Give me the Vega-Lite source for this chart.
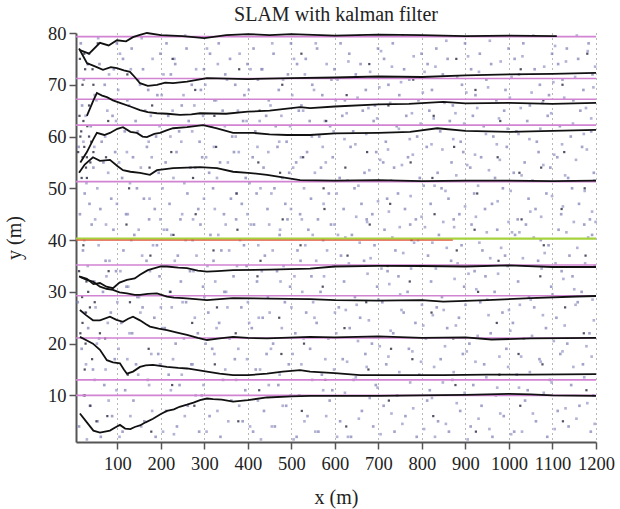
{
  "$schema": "https://vega.github.io/schema/vega-lite/v6.json",
  "width": 520,
  "height": 409,
  "autosize": "none",
  "padding": {"left": 76, "top": 33, "right": 24, "bottom": 67},
  "background": "white",
  "title": {"text": "SLAM with kalman filter", "font": "Liberation Serif", "fontSize": 20, "fontWeight": "normal", "color": "#222", "offset": 10, "dy": 11},
  "config": {
    "view": {"stroke": null},
    "axis": {"labelFont": "Liberation Serif", "titleFont": "Liberation Serif", "labelFontSize": 18.5, "titleFontSize": 20, "titleFontWeight": "normal", "labelColor": "#222", "titleColor": "#222", "domainColor": "#555", "domainWidth": 2, "tickColor": "#555", "tickWidth": 1.5, "tickSize": 7, "labelOverlap": false, "labelFlush": false, "format": "d"}
  },
  "datasets": {
    "lt": [
      {"x":12,"y":4},{"x":18,"y":19},{"x":9,"y":28},{"x":21,"y":38},{"x":14,"y":45},{"x":25,"y":49},{"x":11,"y":58},{"x":19,"y":66},{"x":23,"y":71},{"x":16,"y":78},
      {"x":37,"y":8},{"x":44,"y":15},{"x":33,"y":23},{"x":47,"y":32},{"x":41,"y":43},{"x":36,"y":47},{"x":45,"y":54},{"x":39,"y":62},{"x":48,"y":68},{"x":35,"y":76},
      {"x":62,"y":2},{"x":70,"y":12},{"x":58,"y":21},{"x":67,"y":30},{"x":73,"y":36},{"x":61,"y":46},{"x":68,"y":55},{"x":64,"y":59},{"x":71,"y":70},{"x":59,"y":74},
      {"x":88,"y":6},{"x":94,"y":17},{"x":85,"y":26},{"x":97,"y":34},{"x":91,"y":42},{"x":86,"y":48},{"x":95,"y":57},{"x":89,"y":64},{"x":92,"y":73},{"x":99,"y":78},
      {"x":112,"y":3},{"x":118,"y":11},{"x":109,"y":24},{"x":121,"y":31},{"x":114,"y":38},{"x":120,"y":45},{"x":111,"y":52},{"x":117,"y":61},{"x":123,"y":67},{"x":113,"y":75},
      {"x":137,"y":9},{"x":143,"y":16},{"x":134,"y":22},{"x":146,"y":29},{"x":139,"y":41},{"x":145,"y":50},{"x":136,"y":56},{"x":142,"y":63},{"x":148,"y":71},{"x":133,"y":77},
      {"x":162,"y":5},{"x":170,"y":13},{"x":158,"y":27},{"x":167,"y":36},{"x":173,"y":44},{"x":161,"y":48},{"x":168,"y":58},{"x":164,"y":65},{"x":171,"y":69},{"x":159,"y":73},
      {"x":188,"y":2},{"x":194,"y":18},{"x":185,"y":25},{"x":197,"y":33},{"x":191,"y":39},{"x":186,"y":46},{"x":195,"y":53},{"x":189,"y":60},{"x":192,"y":68},{"x":199,"y":76},
      {"x":212,"y":7},{"x":218,"y":14},{"x":209,"y":23},{"x":221,"y":30},{"x":214,"y":42},{"x":220,"y":47},{"x":211,"y":55},{"x":217,"y":64},{"x":223,"y":72},{"x":213,"y":78},
      {"x":237,"y":4},{"x":243,"y":12},{"x":234,"y":20},{"x":246,"y":32},{"x":239,"y":37},{"x":245,"y":44},{"x":236,"y":57},{"x":242,"y":61},{"x":248,"y":66},{"x":233,"y":74},
      {"x":262,"y":8},{"x":270,"y":16},{"x":258,"y":28},{"x":267,"y":34},{"x":273,"y":40},{"x":261,"y":49},{"x":268,"y":54},{"x":264,"y":63},{"x":271,"y":70},{"x":259,"y":77},
      {"x":288,"y":3},{"x":294,"y":10},{"x":285,"y":22},{"x":297,"y":31},{"x":291,"y":43},{"x":286,"y":46},{"x":295,"y":56},{"x":289,"y":59},{"x":292,"y":69},{"x":299,"y":73},
      {"x":312,"y":6},{"x":318,"y":19},{"x":309,"y":26},{"x":321,"y":36},{"x":314,"y":41},{"x":320,"y":50},{"x":311,"y":53},{"x":317,"y":62},{"x":323,"y":67},{"x":313,"y":76},
      {"x":337,"y":2},{"x":343,"y":13},{"x":334,"y":24},{"x":346,"y":30},{"x":339,"y":38},{"x":345,"y":45},{"x":336,"y":55},{"x":342,"y":65},{"x":348,"y":72},{"x":333,"y":78},
      {"x":362,"y":9},{"x":370,"y":17},{"x":358,"y":21},{"x":367,"y":33},{"x":373,"y":44},{"x":361,"y":48},{"x":368,"y":57},{"x":364,"y":60},{"x":371,"y":70},{"x":359,"y":75},
      {"x":388,"y":5},{"x":394,"y":11},{"x":385,"y":27},{"x":397,"y":35},{"x":391,"y":39},{"x":386,"y":47},{"x":395,"y":52},{"x":389,"y":63},{"x":392,"y":68},{"x":399,"y":74},
      {"x":412,"y":3},{"x":418,"y":15},{"x":409,"y":23},{"x":421,"y":32},{"x":414,"y":43},{"x":420,"y":49},{"x":411,"y":56},{"x":417,"y":61},{"x":423,"y":71},{"x":413,"y":77},
      {"x":437,"y":7},{"x":443,"y":18},{"x":434,"y":25},{"x":446,"y":29},{"x":439,"y":37},{"x":445,"y":46},{"x":436,"y":54},{"x":442,"y":64},{"x":448,"y":67},{"x":433,"y":73},
      {"x":462,"y":4},{"x":470,"y":12},{"x":458,"y":20},{"x":467,"y":34},{"x":473,"y":41},{"x":461,"y":50},{"x":468,"y":58},{"x":464,"y":62},{"x":471,"y":69},{"x":459,"y":76},
      {"x":488,"y":8},{"x":494,"y":16},{"x":485,"y":28},{"x":497,"y":31},{"x":491,"y":44},{"x":486,"y":47},{"x":495,"y":53},{"x":489,"y":59},{"x":492,"y":72},{"x":499,"y":78},
      {"x":512,"y":2},{"x":518,"y":10},{"x":509,"y":22},{"x":521,"y":36},{"x":514,"y":38},{"x":520,"y":45},{"x":511,"y":55},{"x":517,"y":65},{"x":523,"y":66},{"x":513,"y":74},
      {"x":537,"y":6},{"x":543,"y":19},{"x":534,"y":26},{"x":546,"y":33},{"x":539,"y":42},{"x":545,"y":48},{"x":536,"y":57},{"x":542,"y":63},{"x":548,"y":70},{"x":533,"y":75},
      {"x":562,"y":3},{"x":570,"y":14},{"x":558,"y":24},{"x":567,"y":30},{"x":573,"y":40},{"x":561,"y":44},{"x":568,"y":54},{"x":564,"y":60},{"x":571,"y":68},{"x":559,"y":77},
      {"x":588,"y":9},{"x":594,"y":11},{"x":585,"y":21},{"x":597,"y":35},{"x":591,"y":43},{"x":586,"y":49},{"x":595,"y":56},{"x":589,"y":62},{"x":592,"y":71},{"x":599,"y":73},
      {"x":612,"y":5},{"x":618,"y":17},{"x":609,"y":27},{"x":621,"y":32},{"x":614,"y":37},{"x":620,"y":46},{"x":611,"y":52},{"x":617,"y":64},{"x":623,"y":67},{"x":613,"y":78},
      {"x":637,"y":2},{"x":643,"y":13},{"x":634,"y":23},{"x":646,"y":29},{"x":639,"y":41},{"x":645,"y":50},{"x":636,"y":58},{"x":642,"y":61},{"x":648,"y":72},{"x":633,"y":76},
      {"x":662,"y":7},{"x":670,"y":18},{"x":658,"y":25},{"x":667,"y":36},{"x":673,"y":44},{"x":661,"y":47},{"x":668,"y":53},{"x":664,"y":65},{"x":671,"y":69},{"x":659,"y":74},
      {"x":688,"y":4},{"x":694,"y":12},{"x":685,"y":20},{"x":697,"y":31},{"x":691,"y":39},{"x":686,"y":45},{"x":695,"y":57},{"x":689,"y":63},{"x":692,"y":66},{"x":699,"y":77},
      {"x":712,"y":8},{"x":718,"y":16},{"x":709,"y":28},{"x":721,"y":34},{"x":714,"y":42},{"x":720,"y":48},{"x":711,"y":55},{"x":717,"y":59},{"x":723,"y":70},{"x":713,"y":75},
      {"x":737,"y":3},{"x":743,"y":10},{"x":734,"y":22},{"x":746,"y":33},{"x":739,"y":38},{"x":745,"y":49},{"x":736,"y":54},{"x":742,"y":62},{"x":748,"y":68},{"x":733,"y":78},
      {"x":762,"y":6},{"x":770,"y":19},{"x":758,"y":26},{"x":767,"y":30},{"x":773,"y":43},{"x":761,"y":46},{"x":768,"y":56},{"x":764,"y":64},{"x":771,"y":71},{"x":759,"y":73},
      {"x":788,"y":2},{"x":794,"y":14},{"x":785,"y":24},{"x":797,"y":35},{"x":791,"y":40},{"x":786,"y":44},{"x":795,"y":52},{"x":789,"y":60},{"x":792,"y":67},{"x":799,"y":76},
      {"x":812,"y":9},{"x":818,"y":11},{"x":809,"y":21},{"x":821,"y":32},{"x":814,"y":37},{"x":820,"y":47},{"x":811,"y":58},{"x":817,"y":65},{"x":823,"y":69},{"x":813,"y":74},
      {"x":837,"y":5},{"x":843,"y":17},{"x":834,"y":27},{"x":846,"y":29},{"x":839,"y":41},{"x":845,"y":50},{"x":836,"y":53},{"x":842,"y":61},{"x":848,"y":72},{"x":833,"y":77},
      {"x":862,"y":3},{"x":870,"y":13},{"x":858,"y":23},{"x":867,"y":36},{"x":873,"y":44},{"x":861,"y":48},{"x":868,"y":55},{"x":864,"y":63},{"x":871,"y":66},{"x":859,"y":75},
      {"x":888,"y":7},{"x":894,"y":18},{"x":885,"y":25},{"x":897,"y":31},{"x":891,"y":39},{"x":886,"y":45},{"x":895,"y":57},{"x":889,"y":59},{"x":892,"y":70},{"x":899,"y":78},
      {"x":912,"y":4},{"x":918,"y":12},{"x":909,"y":20},{"x":921,"y":34},{"x":914,"y":43},{"x":920,"y":49},{"x":911,"y":54},{"x":917,"y":64},{"x":923,"y":68},{"x":913,"y":73},
      {"x":937,"y":8},{"x":943,"y":16},{"x":934,"y":28},{"x":946,"y":33},{"x":939,"y":38},{"x":945,"y":46},{"x":936,"y":56},{"x":942,"y":62},{"x":948,"y":71},{"x":933,"y":76},
      {"x":962,"y":2},{"x":970,"y":10},{"x":958,"y":22},{"x":967,"y":30},{"x":973,"y":42},{"x":961,"y":47},{"x":968,"y":52},{"x":964,"y":60},{"x":971,"y":67},{"x":959,"y":74},
      {"x":988,"y":6},{"x":994,"y":19},{"x":985,"y":26},{"x":997,"y":35},{"x":991,"y":37},{"x":986,"y":50},{"x":995,"y":58},{"x":989,"y":65},{"x":992,"y":69},{"x":999,"y":77},
      {"x":1012,"y":3},{"x":1018,"y":14},{"x":1009,"y":24},{"x":1021,"y":32},{"x":1014,"y":41},{"x":1020,"y":44},{"x":1011,"y":53},{"x":1017,"y":61},{"x":1023,"y":72},{"x":1013,"y":75},
      {"x":1037,"y":9},{"x":1043,"y":11},{"x":1034,"y":21},{"x":1046,"y":29},{"x":1039,"y":43},{"x":1045,"y":48},{"x":1036,"y":55},{"x":1042,"y":63},{"x":1048,"y":66},{"x":1033,"y":78},
      {"x":1062,"y":5},{"x":1070,"y":17},{"x":1058,"y":27},{"x":1067,"y":36},{"x":1073,"y":40},{"x":1061,"y":46},{"x":1068,"y":57},{"x":1064,"y":59},{"x":1071,"y":70},{"x":1059,"y":73},
      {"x":1088,"y":2},{"x":1094,"y":13},{"x":1085,"y":23},{"x":1097,"y":31},{"x":1091,"y":39},{"x":1086,"y":49},{"x":1095,"y":54},{"x":1089,"y":64},{"x":1092,"y":68},{"x":1099,"y":76},
      {"x":1112,"y":7},{"x":1118,"y":18},{"x":1109,"y":25},{"x":1121,"y":34},{"x":1114,"y":42},{"x":1120,"y":45},{"x":1111,"y":56},{"x":1117,"y":62},{"x":1123,"y":71},{"x":1113,"y":74},
      {"x":1137,"y":4},{"x":1143,"y":12},{"x":1134,"y":20},{"x":1146,"y":33},{"x":1139,"y":37},{"x":1145,"y":50},{"x":1136,"y":52},{"x":1142,"y":60},{"x":1148,"y":67},{"x":1133,"y":77},
      {"x":1162,"y":8},{"x":1170,"y":16},{"x":1158,"y":28},{"x":1167,"y":30},{"x":1173,"y":43},{"x":1161,"y":47},{"x":1168,"y":58},{"x":1164,"y":65},{"x":1171,"y":69},{"x":1159,"y":75},
      {"x":1188,"y":3},{"x":1194,"y":10},{"x":1185,"y":22},{"x":1197,"y":35},{"x":1191,"y":41},{"x":1186,"y":44},{"x":1195,"y":53},{"x":1189,"y":61},{"x":1192,"y":72},{"x":1183,"y":78}
    ],
    "l2": [
      {"x":30,"y":1.5},{"x":23,"y":10},{"x":28,"y":16},{"x":25,"y":26},{"x":32,"y":35},{"x":24,"y":40},{"x":29,"y":51},{"x":22,"y":59},{"x":27,"y":64},{"x":31,"y":74},
      {"x":55,"y":5},{"x":48,"y":13},{"x":53,"y":20},{"x":50,"y":27},{"x":57,"y":39},{"x":49,"y":44},{"x":54,"y":50},{"x":47,"y":58},{"x":52,"y":67},{"x":56,"y":79},
      {"x":80,"y":9},{"x":73,"y":15},{"x":78,"y":24},{"x":75,"y":33},{"x":82,"y":36},{"x":74,"y":43},{"x":79,"y":53},{"x":72,"y":60},{"x":77,"y":65},{"x":81,"y":72},
      {"x":105,"y":2},{"x":98,"y":11},{"x":103,"y":19},{"x":100,"y":28},{"x":107,"y":34},{"x":99,"y":47},{"x":104,"y":55},{"x":97,"y":63},{"x":102,"y":69},{"x":106,"y":76},
      {"x":130,"y":6},{"x":123,"y":17},{"x":128,"y":22},{"x":125,"y":31},{"x":132,"y":40},{"x":124,"y":45},{"x":129,"y":51},{"x":122,"y":57},{"x":127,"y":66},{"x":131,"y":73},
      {"x":155,"y":4},{"x":148,"y":14},{"x":153,"y":26},{"x":150,"y":29},{"x":157,"y":37},{"x":149,"y":42},{"x":154,"y":54},{"x":147,"y":61},{"x":152,"y":70},{"x":156,"y":79},
      {"x":180,"y":7},{"x":173,"y":12},{"x":178,"y":18},{"x":175,"y":34},{"x":182,"y":39},{"x":174,"y":48},{"x":179,"y":56},{"x":172,"y":59},{"x":177,"y":64},{"x":181,"y":75},
      {"x":205,"y":3},{"x":198,"y":16},{"x":203,"y":23},{"x":200,"y":27},{"x":207,"y":42},{"x":199,"y":44},{"x":204,"y":50},{"x":197,"y":62},{"x":202,"y":68},{"x":206,"y":72},
      {"x":230,"y":2.5},{"x":223,"y":11},{"x":228,"y":17},{"x":225,"y":27},{"x":232,"y":36},{"x":224,"y":41},{"x":229,"y":52},{"x":222,"y":60},{"x":227,"y":65},{"x":231,"y":75},
      {"x":255,"y":6},{"x":248,"y":14},{"x":253,"y":21},{"x":250,"y":28},{"x":257,"y":40},{"x":249,"y":45},{"x":254,"y":51},{"x":247,"y":59},{"x":252,"y":68},{"x":256,"y":79.5},
      {"x":280,"y":10},{"x":273,"y":16},{"x":278,"y":25},{"x":275,"y":34},{"x":282,"y":37},{"x":274,"y":44},{"x":279,"y":54},{"x":272,"y":61},{"x":277,"y":66},{"x":281,"y":73},
      {"x":305,"y":3},{"x":298,"y":12},{"x":303,"y":20},{"x":300,"y":29},{"x":307,"y":35},{"x":299,"y":48},{"x":304,"y":56},{"x":297,"y":64},{"x":302,"y":70},{"x":306,"y":77},
      {"x":330,"y":7},{"x":323,"y":18},{"x":328,"y":23},{"x":325,"y":32},{"x":332,"y":41},{"x":324,"y":46},{"x":329,"y":52},{"x":322,"y":58},{"x":327,"y":67},{"x":331,"y":74},
      {"x":355,"y":5},{"x":348,"y":15},{"x":353,"y":27},{"x":350,"y":30},{"x":357,"y":38},{"x":349,"y":43},{"x":354,"y":55},{"x":347,"y":62},{"x":352,"y":71},{"x":356,"y":79.5},
      {"x":380,"y":8},{"x":373,"y":13},{"x":378,"y":19},{"x":375,"y":35},{"x":382,"y":40},{"x":374,"y":49},{"x":379,"y":57},{"x":372,"y":60},{"x":377,"y":65},{"x":381,"y":76},
      {"x":405,"y":4},{"x":398,"y":17},{"x":403,"y":24},{"x":400,"y":28},{"x":407,"y":43},{"x":399,"y":45},{"x":404,"y":51},{"x":397,"y":63},{"x":402,"y":69},{"x":406,"y":73},
      {"x":430,"y":1.5},{"x":423,"y":9},{"x":428,"y":15},{"x":425,"y":25},{"x":432,"y":34},{"x":424,"y":39},{"x":429,"y":50},{"x":422,"y":58},{"x":427,"y":63},{"x":431,"y":73},
      {"x":455,"y":4},{"x":448,"y":12},{"x":453,"y":19},{"x":450,"y":26},{"x":457,"y":38},{"x":449,"y":43},{"x":454,"y":49},{"x":447,"y":57},{"x":452,"y":66},{"x":456,"y":78},
      {"x":480,"y":8},{"x":473,"y":14},{"x":478,"y":23},{"x":475,"y":32},{"x":482,"y":35},{"x":474,"y":42},{"x":479,"y":52},{"x":472,"y":59},{"x":477,"y":64},{"x":481,"y":71},
      {"x":505,"y":1.5},{"x":498,"y":10},{"x":503,"y":18},{"x":500,"y":27},{"x":507,"y":33},{"x":499,"y":46},{"x":504,"y":54},{"x":497,"y":62},{"x":502,"y":68},{"x":506,"y":75},
      {"x":530,"y":5},{"x":523,"y":16},{"x":528,"y":21},{"x":525,"y":30},{"x":532,"y":39},{"x":524,"y":44},{"x":529,"y":50},{"x":522,"y":56},{"x":527,"y":65},{"x":531,"y":72},
      {"x":555,"y":3},{"x":548,"y":13},{"x":553,"y":25},{"x":550,"y":28},{"x":557,"y":36},{"x":549,"y":41},{"x":554,"y":53},{"x":547,"y":60},{"x":552,"y":69},{"x":556,"y":78},
      {"x":580,"y":6},{"x":573,"y":11},{"x":578,"y":17},{"x":575,"y":33},{"x":582,"y":38},{"x":574,"y":47},{"x":579,"y":55},{"x":572,"y":58},{"x":577,"y":63},{"x":581,"y":74},
      {"x":605,"y":2},{"x":598,"y":15},{"x":603,"y":22},{"x":600,"y":26},{"x":607,"y":41},{"x":599,"y":43},{"x":604,"y":49},{"x":597,"y":61},{"x":602,"y":67},{"x":606,"y":71},
      {"x":630,"y":2},{"x":623,"y":10.5},{"x":628,"y":16.5},{"x":625,"y":26.5},{"x":632,"y":35.5},{"x":624,"y":40.5},{"x":629,"y":51.5},{"x":622,"y":59.5},{"x":627,"y":64.5},{"x":631,"y":74.5},
      {"x":655,"y":5.5},{"x":648,"y":13.5},{"x":653,"y":20.5},{"x":650,"y":27.5},{"x":657,"y":39.5},{"x":649,"y":44.5},{"x":654,"y":50.5},{"x":647,"y":58.5},{"x":652,"y":67.5},{"x":656,"y":79.5},
      {"x":680,"y":9.5},{"x":673,"y":15.5},{"x":678,"y":24.5},{"x":675,"y":33.5},{"x":682,"y":36.5},{"x":674,"y":43.5},{"x":679,"y":53.5},{"x":672,"y":60.5},{"x":677,"y":65.5},{"x":681,"y":72.5},
      {"x":705,"y":2.5},{"x":698,"y":11.5},{"x":703,"y":19.5},{"x":700,"y":28.5},{"x":707,"y":34.5},{"x":699,"y":47.5},{"x":704,"y":55.5},{"x":697,"y":63.5},{"x":702,"y":69.5},{"x":706,"y":76.5},
      {"x":730,"y":6.5},{"x":723,"y":17.5},{"x":728,"y":22.5},{"x":725,"y":31.5},{"x":732,"y":40.5},{"x":724,"y":45.5},{"x":729,"y":51.5},{"x":722,"y":57.5},{"x":727,"y":66.5},{"x":731,"y":73.5},
      {"x":755,"y":4.5},{"x":748,"y":14.5},{"x":753,"y":26.5},{"x":750,"y":29.5},{"x":757,"y":37.5},{"x":749,"y":42.5},{"x":754,"y":54.5},{"x":747,"y":61.5},{"x":752,"y":70.5},{"x":756,"y":79.5},
      {"x":780,"y":7.5},{"x":773,"y":12.5},{"x":778,"y":18.5},{"x":775,"y":34.5},{"x":782,"y":39.5},{"x":774,"y":48.5},{"x":779,"y":56.5},{"x":772,"y":59.5},{"x":777,"y":64.5},{"x":781,"y":75.5},
      {"x":805,"y":3.5},{"x":798,"y":16.5},{"x":803,"y":23.5},{"x":800,"y":27.5},{"x":807,"y":42.5},{"x":799,"y":44.5},{"x":804,"y":50.5},{"x":797,"y":62.5},{"x":802,"y":68.5},{"x":806,"y":72.5},
      {"x":830,"y":2},{"x":823,"y":9.5},{"x":828,"y":15.5},{"x":825,"y":25.5},{"x":832,"y":34.5},{"x":824,"y":39.5},{"x":829,"y":50.5},{"x":822,"y":58.5},{"x":827,"y":63.5},{"x":831,"y":73.5},
      {"x":855,"y":4.5},{"x":848,"y":12.5},{"x":853,"y":19.5},{"x":850,"y":26.5},{"x":857,"y":38.5},{"x":849,"y":43.5},{"x":854,"y":49.5},{"x":847,"y":57.5},{"x":852,"y":66.5},{"x":856,"y":78.5},
      {"x":880,"y":8.5},{"x":873,"y":14.5},{"x":878,"y":23.5},{"x":875,"y":32.5},{"x":882,"y":35.5},{"x":874,"y":42.5},{"x":879,"y":52.5},{"x":872,"y":59.5},{"x":877,"y":64.5},{"x":881,"y":71.5},
      {"x":905,"y":1.5},{"x":898,"y":10.5},{"x":903,"y":18.5},{"x":900,"y":27.5},{"x":907,"y":33.5},{"x":899,"y":46.5},{"x":904,"y":54.5},{"x":897,"y":62.5},{"x":902,"y":68.5},{"x":906,"y":75.5},
      {"x":930,"y":5.5},{"x":923,"y":16.5},{"x":928,"y":21.5},{"x":925,"y":30.5},{"x":932,"y":39.5},{"x":924,"y":44.5},{"x":929,"y":50.5},{"x":922,"y":56.5},{"x":927,"y":65.5},{"x":931,"y":72.5},
      {"x":955,"y":3.5},{"x":948,"y":13.5},{"x":953,"y":25.5},{"x":950,"y":28.5},{"x":957,"y":36.5},{"x":949,"y":41.5},{"x":954,"y":53.5},{"x":947,"y":60.5},{"x":952,"y":69.5},{"x":956,"y":78.5},
      {"x":980,"y":6.5},{"x":973,"y":11.5},{"x":978,"y":17.5},{"x":975,"y":33.5},{"x":982,"y":38.5},{"x":974,"y":47.5},{"x":979,"y":55.5},{"x":972,"y":58.5},{"x":977,"y":63.5},{"x":981,"y":74.5},
      {"x":1005,"y":2.5},{"x":998,"y":15.5},{"x":1003,"y":22.5},{"x":1000,"y":26.5},{"x":1007,"y":41.5},{"x":999,"y":43.5},{"x":1004,"y":49.5},{"x":997,"y":61.5},{"x":1002,"y":67.5},{"x":1006,"y":71.5},
      {"x":1030,"y":3},{"x":1023,"y":11.5},{"x":1028,"y":17.5},{"x":1025,"y":27.5},{"x":1032,"y":36.5},{"x":1024,"y":41.5},{"x":1029,"y":52.5},{"x":1022,"y":60.5},{"x":1027,"y":65.5},{"x":1031,"y":75.5},
      {"x":1055,"y":6.5},{"x":1048,"y":14.5},{"x":1053,"y":21.5},{"x":1050,"y":28.5},{"x":1057,"y":40.5},{"x":1049,"y":45.5},{"x":1054,"y":51.5},{"x":1047,"y":59.5},{"x":1052,"y":68.5},{"x":1056,"y":79.5},
      {"x":1080,"y":10.5},{"x":1073,"y":16.5},{"x":1078,"y":25.5},{"x":1075,"y":34.5},{"x":1082,"y":37.5},{"x":1074,"y":44.5},{"x":1079,"y":54.5},{"x":1072,"y":61.5},{"x":1077,"y":66.5},{"x":1081,"y":73.5},
      {"x":1105,"y":3.5},{"x":1098,"y":12.5},{"x":1103,"y":20.5},{"x":1100,"y":29.5},{"x":1107,"y":35.5},{"x":1099,"y":48.5},{"x":1104,"y":56.5},{"x":1097,"y":64.5},{"x":1102,"y":70.5},{"x":1106,"y":77.5},
      {"x":1130,"y":7.5},{"x":1123,"y":18.5},{"x":1128,"y":23.5},{"x":1125,"y":32.5},{"x":1132,"y":41.5},{"x":1124,"y":46.5},{"x":1129,"y":52.5},{"x":1122,"y":58.5},{"x":1127,"y":67.5},{"x":1131,"y":74.5},
      {"x":1155,"y":5.5},{"x":1148,"y":15.5},{"x":1153,"y":27.5},{"x":1150,"y":30.5},{"x":1157,"y":38.5},{"x":1149,"y":43.5},{"x":1154,"y":55.5},{"x":1147,"y":62.5},{"x":1152,"y":71.5},{"x":1156,"y":79.5},
      {"x":1180,"y":8.5},{"x":1173,"y":13.5},{"x":1178,"y":19.5},{"x":1175,"y":35.5},{"x":1182,"y":40.5},{"x":1174,"y":49.5},{"x":1179,"y":57.5},{"x":1172,"y":60.5},{"x":1177,"y":65.5},{"x":1181,"y":76.5},
      {"x":1197,"y":4.5},{"x":1190,"y":17.5},{"x":1195,"y":24.5},{"x":1192,"y":28.5},{"x":1199,"y":43.5},{"x":1191,"y":45.5},{"x":1196,"y":51.5},{"x":1189,"y":63.5},{"x":1194,"y":69.5},{"x":1198,"y":73.5}
    ],
    "dk": [
      {"x":25,"y":10},{"x":28,"y":26},{"x":22,"y":39},{"x":30,"y":52},{"x":20,"y":70},
      {"x":77,"y":6},{"x":72,"y":21},{"x":80,"y":34},{"x":74,"y":56},{"x":79,"y":63},
      {"x":124,"y":14},{"x":129,"y":28},{"x":121,"y":43},{"x":127,"y":50},{"x":123,"y":72},
      {"x":178,"y":3},{"x":172,"y":19},{"x":176,"y":37},{"x":174,"y":54},{"x":180,"y":66},
      {"x":226,"y":12},{"x":222,"y":30},{"x":229,"y":41},{"x":224,"y":57},{"x":227,"y":75},
      {"x":277,"y":8},{"x":272,"y":24},{"x":280,"y":45},{"x":274,"y":52},{"x":279,"y":69},
      {"x":324,"y":16},{"x":329,"y":27},{"x":321,"y":38},{"x":327,"y":58},{"x":323,"y":64},
      {"x":378,"y":5},{"x":372,"y":22},{"x":376,"y":42},{"x":374,"y":49},{"x":380,"y":73},
      {"x":426,"y":11},{"x":422,"y":33},{"x":429,"y":36},{"x":424,"y":55},{"x":427,"y":65},
      {"x":477,"y":18},{"x":472,"y":25},{"x":480,"y":44},{"x":474,"y":53},{"x":479,"y":70},
      {"x":524,"y":7},{"x":529,"y":20},{"x":521,"y":39},{"x":527,"y":56},{"x":523,"y":76},
      {"x":578,"y":13},{"x":572,"y":31},{"x":576,"y":46},{"x":574,"y":50},{"x":580,"y":63},
      {"x":626,"y":4},{"x":622,"y":23},{"x":629,"y":37},{"x":624,"y":54},{"x":627,"y":68},
      {"x":677,"y":15},{"x":672,"y":28},{"x":680,"y":43},{"x":674,"y":57},{"x":679,"y":74},
      {"x":724,"y":9},{"x":729,"y":19},{"x":721,"y":35},{"x":727,"y":47},{"x":723,"y":66},
      {"x":778,"y":17},{"x":772,"y":32},{"x":776,"y":40},{"x":774,"y":55},{"x":780,"y":71},
      {"x":826,"y":6},{"x":822,"y":26},{"x":829,"y":45},{"x":824,"y":52},{"x":827,"y":64},
      {"x":877,"y":12},{"x":872,"y":21},{"x":880,"y":38},{"x":874,"y":58},{"x":879,"y":75},
      {"x":924,"y":3},{"x":929,"y":30},{"x":921,"y":42},{"x":927,"y":49},{"x":923,"y":69},
      {"x":978,"y":14},{"x":972,"y":24},{"x":976,"y":36},{"x":974,"y":56},{"x":980,"y":63},
      {"x":1026,"y":8},{"x":1022,"y":18},{"x":1029,"y":44},{"x":1024,"y":53},{"x":1027,"y":73},
      {"x":1077,"y":16},{"x":1072,"y":33},{"x":1080,"y":39},{"x":1074,"y":54},{"x":1079,"y":67},
      {"x":1124,"y":5},{"x":1129,"y":27},{"x":1121,"y":46},{"x":1127,"y":57},{"x":1123,"y":70},
      {"x":1178,"y":11},{"x":1172,"y":22},{"x":1176,"y":37},{"x":1174,"y":50},{"x":1180,"y":76},
      {"x":15,"y":60},{"x":22,"y":63},{"x":30,"y":56},{"x":35,"y":66},{"x":18,"y":52},{"x":40,"y":59},{"x":26,"y":73},{"x":45,"y":70},{"x":55,"y":78},
      {"x":12,"y":34},{"x":20,"y":24},{"x":33,"y":30},{"x":48,"y":28},{"x":60,"y":22},{"x":25,"y":15},{"x":38,"y":8},{"x":52,"y":5},{"x":42,"y":17},
      {"x":10,"y":57},{"x":17,"y":61},{"x":24,"y":58},{"x":31,"y":62},{"x":38,"y":55},{"x":45,"y":57},{"x":13,"y":64},{"x":28,"y":54},{"x":35,"y":60},{"x":20,"y":56},
      {"x":14,"y":75},{"x":24,"y":76},{"x":33,"y":74},{"x":43,"y":73},{"x":19,"y":29},{"x":29,"y":32},{"x":37,"y":27},{"x":15,"y":22},{"x":27,"y":20}
    ],
    "tr": [
      {"id":"a","x":14,"y":76.7},{"id":"a","x":35,"y":76},{"id":"a","x":60,"y":78.1},{"id":"a","x":80,"y":77.6},{"id":"a","x":99,"y":78.6},{"id":"a","x":120,"y":78.4},{"id":"a","x":136,"y":79.2},{"id":"a","x":150,"y":79.6},{"id":"a","x":168,"y":80},{"id":"a","x":200,"y":79.6},{"id":"a","x":250,"y":79.4},{"id":"a","x":300,"y":79},{"id":"a","x":350,"y":79.6},{"id":"a","x":400,"y":79.8},{"id":"a","x":450,"y":79.6},{"id":"a","x":500,"y":79.8},{"id":"a","x":600,"y":79.5},{"id":"a","x":700,"y":79.7},{"id":"a","x":800,"y":79.6},{"id":"a","x":900,"y":79.4},{"id":"a","x":1000,"y":79.5},{"id":"a","x":1110,"y":79.4},
      {"id":"b","x":12,"y":77},{"id":"b","x":30,"y":74.2},{"id":"b","x":50,"y":73.5},{"id":"b","x":67,"y":72.9},{"id":"b","x":85,"y":73.4},{"id":"b","x":99,"y":73.2},{"id":"b","x":115,"y":72.8},{"id":"b","x":129,"y":72.5},{"id":"b","x":140,"y":71.5},{"id":"b","x":152,"y":70.3},{"id":"b","x":170,"y":69.8},{"id":"b","x":191,"y":70},{"id":"b","x":210,"y":70.4},{"id":"b","x":228,"y":70.3},{"id":"b","x":260,"y":70.6},{"id":"b","x":306,"y":71.3},{"id":"b","x":400,"y":71.1},{"id":"b","x":500,"y":71.3},{"id":"b","x":600,"y":71.4},{"id":"b","x":700,"y":71.6},{"id":"b","x":800,"y":71.5},{"id":"b","x":900,"y":71.8},{"id":"b","x":1000,"y":72},{"id":"b","x":1100,"y":72.1},{"id":"b","x":1200,"y":72.3},
      {"id":"c","x":30,"y":64},{"id":"c","x":45,"y":67},{"id":"c","x":53,"y":68.4},{"id":"c","x":65,"y":67.9},{"id":"c","x":76,"y":67.6},{"id":"c","x":90,"y":67},{"id":"c","x":106,"y":66.5},{"id":"c","x":130,"y":65.8},{"id":"c","x":152,"y":65.1},{"id":"c","x":170,"y":64.7},{"id":"c","x":191,"y":64.5},{"id":"c","x":215,"y":64.4},{"id":"c","x":244,"y":64.2},{"id":"c","x":270,"y":64.3},{"id":"c","x":290,"y":64.5},{"id":"c","x":350,"y":64.4},{"id":"c","x":400,"y":64.8},{"id":"c","x":450,"y":65},{"id":"c","x":520,"y":65.7},{"id":"c","x":543,"y":65.5},{"id":"c","x":600,"y":65.8},{"id":"c","x":700,"y":66.2},{"id":"c","x":770,"y":66.3},{"id":"c","x":849,"y":66.7},{"id":"c","x":900,"y":66.4},{"id":"c","x":1000,"y":66.5},{"id":"c","x":1100,"y":66.3},{"id":"c","x":1200,"y":66.5},
      {"id":"d","x":15,"y":55},{"id":"d","x":30,"y":57},{"id":"d","x":45,"y":59.5},{"id":"d","x":53,"y":60.7},{"id":"d","x":70,"y":60.3},{"id":"d","x":83,"y":60.7},{"id":"d","x":100,"y":61.5},{"id":"d","x":113,"y":61.8},{"id":"d","x":130,"y":60.9},{"id":"d","x":145,"y":60.7},{"id":"d","x":158,"y":60},{"id":"d","x":168,"y":59.9},{"id":"d","x":185,"y":60.5},{"id":"d","x":198,"y":60.7},{"id":"d","x":213,"y":61.2},{"id":"d","x":228,"y":61.6},{"id":"d","x":260,"y":61.8},{"id":"d","x":297,"y":62.2},{"id":"d","x":329,"y":61.6},{"id":"d","x":366,"y":60.7},{"id":"d","x":412,"y":60.7},{"id":"d","x":450,"y":60.4},{"id":"d","x":490,"y":60.3},{"id":"d","x":543,"y":60.3},{"id":"d","x":600,"y":60.6},{"id":"d","x":700,"y":60.7},{"id":"d","x":773,"y":60.9},{"id":"d","x":835,"y":61.6},{"id":"d","x":900,"y":61.1},{"id":"d","x":1003,"y":60.9},{"id":"d","x":1100,"y":61.1},{"id":"d","x":1200,"y":61.3},
      {"id":"e","x":12,"y":53},{"id":"e","x":25,"y":54.6},{"id":"e","x":44,"y":56},{"id":"e","x":60,"y":55.3},{"id":"e","x":83,"y":55.5},{"id":"e","x":100,"y":54.3},{"id":"e","x":113,"y":53.5},{"id":"e","x":130,"y":53.2},{"id":"e","x":152,"y":53},{"id":"e","x":175,"y":52.6},{"id":"e","x":191,"y":53.5},{"id":"e","x":210,"y":53.7},{"id":"e","x":228,"y":53.9},{"id":"e","x":260,"y":54},{"id":"e","x":290,"y":54.1},{"id":"e","x":329,"y":53.9},{"id":"e","x":366,"y":53.2},{"id":"e","x":400,"y":53},{"id":"e","x":444,"y":52.6},{"id":"e","x":480,"y":52.1},{"id":"e","x":520,"y":51.6},{"id":"e","x":600,"y":51.5},{"id":"e","x":700,"y":51.6},{"id":"e","x":800,"y":51.4},{"id":"e","x":900,"y":51.5},{"id":"e","x":1000,"y":51.5},{"id":"e","x":1100,"y":51.4},{"id":"e","x":1200,"y":51.5},
      {"id":"g","x":12,"y":33},{"id":"g","x":30,"y":32.5},{"id":"g","x":45,"y":31.5},{"id":"g","x":60,"y":31.7},{"id":"g","x":75,"y":31},{"id":"g","x":90,"y":30.7},{"id":"g","x":105,"y":31.8},{"id":"g","x":122,"y":32.3},{"id":"g","x":140,"y":32.6},{"id":"g","x":152,"y":33.3},{"id":"g","x":170,"y":34.2},{"id":"g","x":182,"y":34.5},{"id":"g","x":200,"y":34.9},{"id":"g","x":214,"y":34.9},{"id":"g","x":240,"y":34.7},{"id":"g","x":260,"y":34.6},{"id":"g","x":285,"y":34.1},{"id":"g","x":306,"y":33.9},{"id":"g","x":330,"y":34},{"id":"g","x":366,"y":34.2},{"id":"g","x":450,"y":34.3},{"id":"g","x":543,"y":34.5},{"id":"g","x":600,"y":34.9},{"id":"g","x":700,"y":35},{"id":"g","x":800,"y":35},{"id":"g","x":900,"y":34.9},{"id":"g","x":1000,"y":35.1},{"id":"g","x":1100,"y":34.8},{"id":"g","x":1200,"y":34.8},
      {"id":"h","x":14,"y":32.9},{"id":"h","x":30,"y":32.3},{"id":"h","x":44,"y":32},{"id":"h","x":60,"y":31},{"id":"h","x":75,"y":30.6},{"id":"h","x":90,"y":30.4},{"id":"h","x":105,"y":29.9},{"id":"h","x":122,"y":29.7},{"id":"h","x":140,"y":29.4},{"id":"h","x":152,"y":29.4},{"id":"h","x":170,"y":29.6},{"id":"h","x":191,"y":29.7},{"id":"h","x":214,"y":29.1},{"id":"h","x":230,"y":28.9},{"id":"h","x":251,"y":28.8},{"id":"h","x":280,"y":28.6},{"id":"h","x":306,"y":28.4},{"id":"h","x":335,"y":28.6},{"id":"h","x":366,"y":28.8},{"id":"h","x":450,"y":28.7},{"id":"h","x":543,"y":28.6},{"id":"h","x":600,"y":28.4},{"id":"h","x":700,"y":28.3},{"id":"h","x":800,"y":28.4},{"id":"h","x":849,"y":28.1},{"id":"h","x":950,"y":28.4},{"id":"h","x":1050,"y":28.8},{"id":"h","x":1156,"y":29.1},{"id":"h","x":1200,"y":29.2},
      {"id":"i","x":14,"y":26.5},{"id":"i","x":28,"y":25.5},{"id":"i","x":44,"y":24.5},{"id":"i","x":60,"y":24.5},{"id":"i","x":83,"y":25.2},{"id":"i","x":98,"y":24.6},{"id":"i","x":113,"y":24.2},{"id":"i","x":125,"y":24.8},{"id":"i","x":136,"y":25.2},{"id":"i","x":152,"y":24.5},{"id":"i","x":165,"y":23.8},{"id":"i","x":175,"y":23.3},{"id":"i","x":195,"y":22.9},{"id":"i","x":214,"y":22.6},{"id":"i","x":240,"y":22.1},{"id":"i","x":260,"y":21.7},{"id":"i","x":285,"y":21.1},{"id":"i","x":306,"y":20.7},{"id":"i","x":335,"y":21},{"id":"i","x":366,"y":21.3},{"id":"i","x":400,"y":21.1},{"id":"i","x":444,"y":21},{"id":"i","x":543,"y":21.3},{"id":"i","x":600,"y":21.2},{"id":"i","x":700,"y":21.4},{"id":"i","x":800,"y":21.1},{"id":"i","x":900,"y":21.2},{"id":"i","x":960,"y":20.8},{"id":"i","x":1050,"y":21},{"id":"i","x":1200,"y":21.1},
      {"id":"j","x":14,"y":21.3},{"id":"j","x":30,"y":20.6},{"id":"j","x":44,"y":20},{"id":"j","x":60,"y":18.8},{"id":"j","x":76,"y":16.8},{"id":"j","x":90,"y":16.4},{"id":"j","x":106,"y":16.2},{"id":"j","x":115,"y":15},{"id":"j","x":122,"y":14.2},{"id":"j","x":136,"y":14.6},{"id":"j","x":152,"y":15.5},{"id":"j","x":165,"y":15.8},{"id":"j","x":182,"y":15.9},{"id":"j","x":214,"y":15.5},{"id":"j","x":240,"y":15.3},{"id":"j","x":260,"y":15.2},{"id":"j","x":285,"y":14.9},{"id":"j","x":306,"y":14.6},{"id":"j","x":335,"y":14.2},{"id":"j","x":366,"y":13.9},{"id":"j","x":400,"y":13.9},{"id":"j","x":444,"y":14.2},{"id":"j","x":480,"y":14.6},{"id":"j","x":520,"y":14.9},{"id":"j","x":543,"y":14.6},{"id":"j","x":600,"y":14.3},{"id":"j","x":658,"y":13.9},{"id":"j","x":750,"y":13.9},{"id":"j","x":849,"y":13.9},{"id":"j","x":950,"y":14},{"id":"j","x":1050,"y":14},{"id":"j","x":1200,"y":14.1},
      {"id":"k","x":14,"y":6.5},{"id":"k","x":30,"y":4.8},{"id":"k","x":45,"y":3.2},{"id":"k","x":60,"y":2.8},{"id":"k","x":83,"y":3.2},{"id":"k","x":95,"y":3.8},{"id":"k","x":106,"y":4.3},{"id":"k","x":118,"y":3.6},{"id":"k","x":130,"y":3.5},{"id":"k","x":140,"y":3.9},{"id":"k","x":152,"y":4.2},{"id":"k","x":165,"y":4.8},{"id":"k","x":182,"y":5.5},{"id":"k","x":200,"y":6.4},{"id":"k","x":214,"y":7},{"id":"k","x":230,"y":7.3},{"id":"k","x":243,"y":7.8},{"id":"k","x":260,"y":8.2},{"id":"k","x":275,"y":8.6},{"id":"k","x":290,"y":9.1},{"id":"k","x":306,"y":9.4},{"id":"k","x":320,"y":9.3},{"id":"k","x":340,"y":9.2},{"id":"k","x":366,"y":8.8},{"id":"k","x":400,"y":9.1},{"id":"k","x":444,"y":9.6},{"id":"k","x":500,"y":9.8},{"id":"k","x":543,"y":9.9},{"id":"k","x":600,"y":9.9},{"id":"k","x":700,"y":9.9},{"id":"k","x":795,"y":10},{"id":"k","x":900,"y":10.1},{"id":"k","x":1000,"y":10.3},{"id":"k","x":1050,"y":10.2},{"id":"k","x":1100,"y":10},{"id":"k","x":1200,"y":9.9}
    ],
    "hl": [{"y":79.3},{"y":71.2},{"y":67.2},{"y":62.2},{"y":51.3},{"y":35.2},{"y":29.25},{"y":21.1},{"y":13.0},{"y":10.0}],
    "red": [{"x":5,"x2":871,"y":40.0}],
    "grn": [{"y":40.3}]
  },
  "layer": [
    {
      "data": {"name": "lt"},
      "mark": {"type": "square", "size": 7, "color": "#7c7cb4", "opacity": 0.7},
      "encoding": {
        "x": {"field": "x", "type": "quantitative", "scale": {"domain": [5, 1200], "nice": false, "zero": false},
              "axis": {"title": "x (m)", "values": [100,200,300,400,500,600,700,800,900,1000,1100,1200], "grid": true, "gridColor": "#333", "gridDash": [1, 4], "gridOpacity": 0.7, "labelPadding": 5, "titlePadding": 15}},
        "y": {"field": "y", "type": "quantitative", "scale": {"domain": [1, 80], "nice": false, "zero": false},
              "axis": {"title": "y (m)", "values": [10,20,30,40,50,60,70,80], "grid": false, "labelPadding": 3, "titlePadding": 23}}
      }
    },
    {
      "data": {"name": "l2"},
      "mark": {"type": "square", "size": 7, "color": "#8a8ac0", "opacity": 0.65},
      "encoding": {"x": {"field": "x", "type": "quantitative"}, "y": {"field": "y", "type": "quantitative"}}
    },
    {
      "data": {"name": "dk"},
      "mark": {"type": "square", "size": 5, "color": "#34344a", "opacity": 0.85},
      "encoding": {"x": {"field": "x", "type": "quantitative"}, "y": {"field": "y", "type": "quantitative"}}
    },
    {
      "data": {"name": "hl"},
      "mark": {"type": "rule", "color": "#d283d2", "strokeWidth": 1.6},
      "encoding": {"y": {"field": "y", "type": "quantitative"}}
    },
    {
      "data": {"name": "grn"},
      "mark": {"type": "rule", "color": "#a6d23c", "strokeWidth": 2.2},
      "encoding": {"y": {"field": "y", "type": "quantitative"}}
    },
    {
      "data": {"name": "red"},
      "mark": {"type": "rule", "color": "#e0563a", "strokeWidth": 1.4},
      "encoding": {"x": {"field": "x", "type": "quantitative"}, "x2": {"field": "x2"}, "y": {"field": "y", "type": "quantitative"}}
    },
    {
      "data": {"name": "tr"},
      "mark": {"type": "line", "color": "#111", "strokeWidth": 1.8},
      "encoding": {"x": {"field": "x", "type": "quantitative"}, "y": {"field": "y", "type": "quantitative"}, "detail": {"field": "id"}}
    }
  ]
}
